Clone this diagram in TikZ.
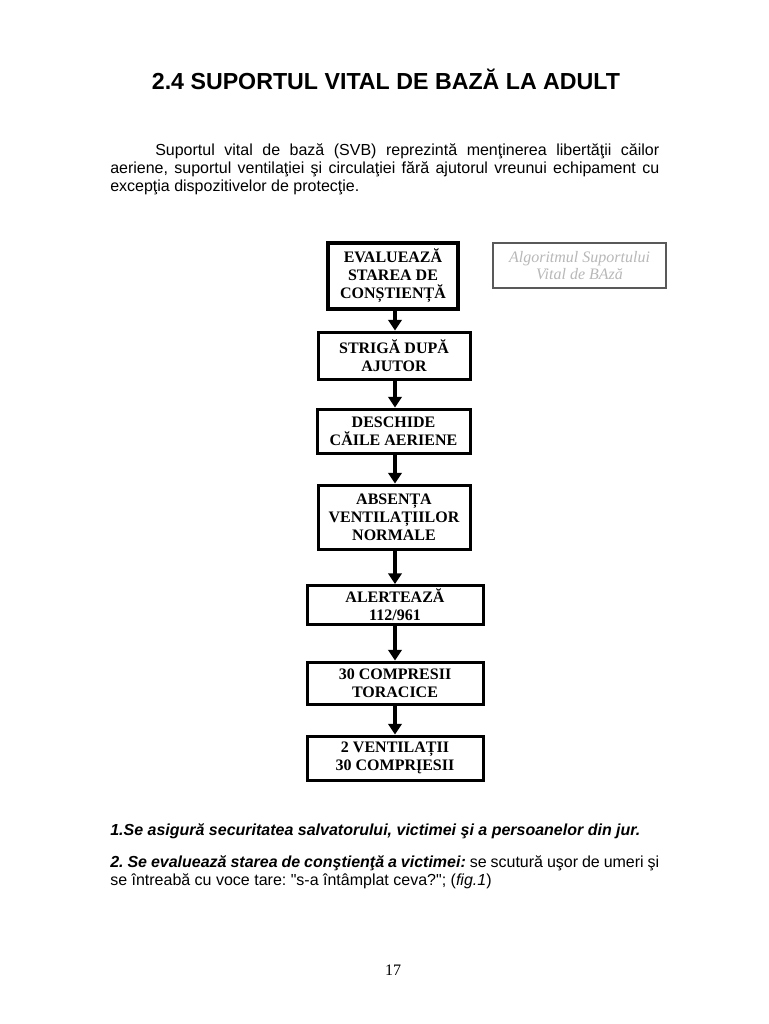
\documentclass[tikz,border=0pt]{standalone}
\usepackage{fontspec}
\setmainfont{Liberation Serif}
\newfontfamily\arial{Liberation Sans}
\usetikzlibrary{arrows.meta}
\frenchspacing
\begin{document}
\begin{tikzpicture}[x=0.75pt,y=-0.75pt,
  stepbox/.style={draw, line width=2.25pt, align=center, inner sep=0pt,
    font=\bfseries\fontsize{12}{13.5}\selectfont},
  arr/.style={line width=3pt, -{Triangle[length=8pt,width=10pt]}},
  para/.style={inner sep=0pt, text width=411.75pt, align=justify,
    font=\arial\fontsize{12}{13.5}\selectfont},
  legendbox/.style={draw=black!65, line width=1pt, fill=white, align=center, inner sep=0pt,
    minimum width=129.75pt, minimum height=33.75pt, text=black!28,
    font=\itshape\fontsize{12}{12.75}\selectfont}]
\useasboundingbox (0,0) rectangle (768,1024);
\fill[white] (0,0) rectangle (768,1024);

% title
\node[font=\arial\bfseries\fontsize{17.4}{20}\selectfont, inner sep=0pt] (title) at (386,79)
  {2.4 SUPORTUL VITAL DE BAZĂ LA ADULT};

% intro paragraph
\node[para, anchor=north west] (intro) at (110,143)
  {\hspace*{33.75pt}Suportul vital de bază (SVB) reprezintă menţinerea libertăţii căilor\linebreak
   aeriene, suportul ventilaţiei şi circulaţiei fără ajutorul vreunui echipament cu\linebreak
   excepţia dispozitivelor de protecţie.};

% flowchart
\coordinate (ax) at (395,0);
\node[stepbox, line width=2.6pt, minimum width=97.5pt, minimum height=49.5pt] (b1) at (393,276)
  {EVALUEAZĂ\\STAREA DE\\CONȘTIENȚĂ};
\node[stepbox, minimum width=114pt, minimum height=35.25pt] (b2) at (394,355.5)
  {STRIGĂ DUPĂ\\AJUTOR};
\node[stepbox, minimum width=114.75pt, minimum height=33pt] (b3) at (393.5,431)
  {DESCHIDE\\CĂILE AERIENE};
\node[stepbox, minimum width=114pt, minimum height=48pt] (b4) at (394,517)
  {ABSENȚA\\VENTILAȚIILOR\\NORMALE};
\node[stepbox, minimum width=132pt, minimum height=29.25pt] (b5) at (395,605)
  {ALERTEAZĂ\\112/961};
\node[stepbox, minimum width=132pt, minimum height=31.5pt] (b6) at (395,683)
  {30 COMPRESII\\TORACICE};
\node[stepbox, minimum width=132pt, minimum height=33pt] (b7) at (395,758)
  {2 VENTILAȚII\\30 COMPRĮESII};

\draw[arr] (b1.south -| ax) -- (b2.north -| ax);
\draw[arr] (b2.south -| ax) -- (b3.north -| ax);
\draw[arr] (b3.south -| ax) -- (b4.north -| ax);
\draw[arr] (b4.south -| ax) -- (b5.north -| ax);
\draw[arr] (b5.south -| ax) -- (b6.north -| ax);
\draw[arr] (b6.south -| ax) -- (b7.north -| ax);

% legend
\node[legendbox] (legend) at (579.5,265.5) {Algoritmul Suportului\\Vital de BAză};

% items
\node[inner sep=0pt, anchor=base west, font=\arial\bfseries\itshape\fontsize{12}{13.5}\selectfont] (item1) at (110,835)
  {1.Se asigură securitatea salvatorului, victimei şi a persoanelor din jur.};
\node[para, anchor=north west] (item2) at (110,855)
  {{\bfseries\itshape 2. Se evaluează starea de conştienţă a victimei:} se scutură uşor de umeri şi\linebreak
   se întreabă cu voce tare: "s-a întâmplat ceva?"; (\textit{fig.1})};

% page number
\node[font=\fontsize{12}{14}\selectfont, inner sep=0pt] (page) at (393,970) {17};
\end{tikzpicture}
\end{document}
